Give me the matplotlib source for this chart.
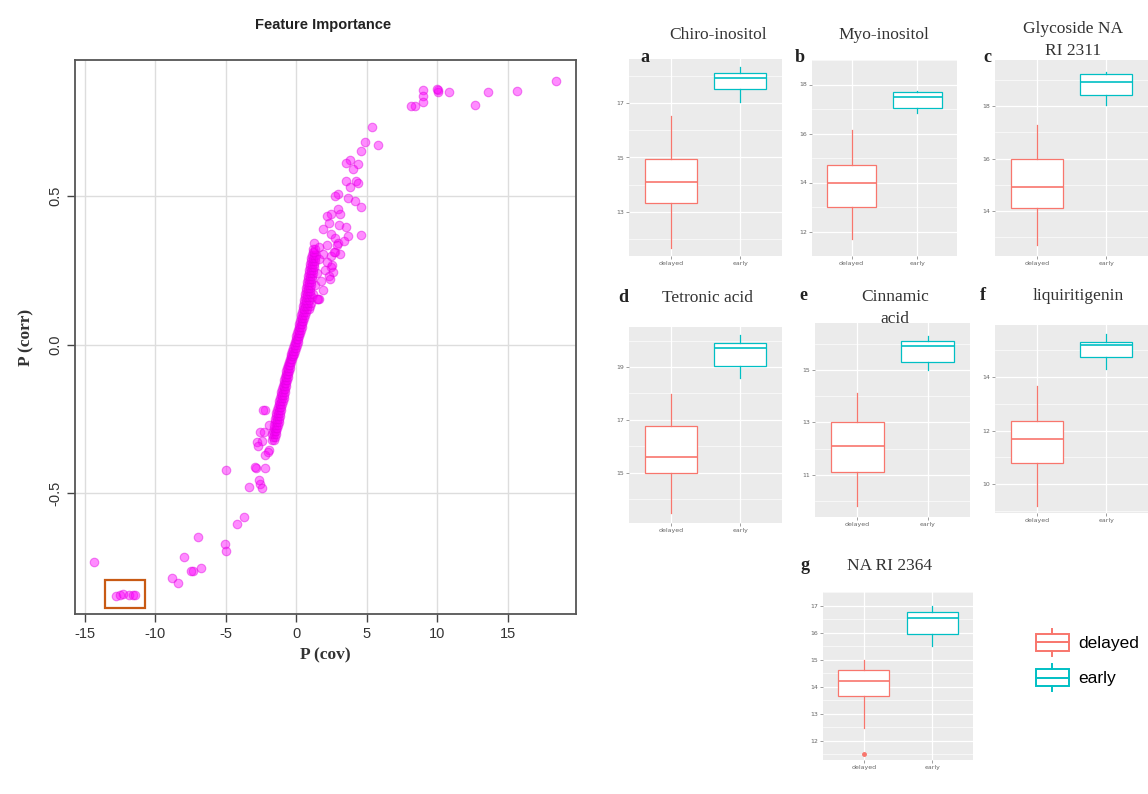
import matplotlib
matplotlib.use('Agg')
import matplotlib.pyplot as plt
from matplotlib.legend_handler import HandlerBase
from matplotlib.patches import Rectangle
from matplotlib.lines import Line2D

plt.rcParams['axes.unicode_minus'] = False

W, H = 1148, 794

# ---- scatter data: (P(cov), P(corr)) ----
band_pts = [
    (-1.75, -0.32), (-1.6, -0.32), (-1.68, -0.31), (-1.52, -0.31),
    (-1.7, -0.30), (-1.55, -0.30), (-1.45, -0.30),
    (-1.62, -0.29), (-1.5, -0.29), (-1.4, -0.29),
    (-1.6, -0.28), (-1.45, -0.28), (-1.35, -0.28),
    (-1.55, -0.27), (-1.42, -0.27), (-1.3, -0.27),
    (-1.5, -0.26), (-1.38, -0.26), (-1.25, -0.26),
    (-1.48, -0.25), (-1.35, -0.25), (-1.22, -0.25),
    (-1.45, -0.24), (-1.3, -0.24), (-1.18, -0.24),
    (-1.4, -0.23), (-1.27, -0.23), (-1.15, -0.23),
    (-1.35, -0.22), (-1.22, -0.22), (-1.1, -0.22),
    (-1.3, -0.21), (-1.17, -0.21), (-1.05, -0.21),
    (-1.25, -0.20), (-1.12, -0.20), (-1.0, -0.20),
    (-1.2, -0.19), (-1.07, -0.19), (-0.95, -0.19),
    (-1.15, -0.18), (-1.02, -0.18), (-0.9, -0.18),
    (-1.1, -0.17), (-0.98, -0.17), (-0.86, -0.17),
    (-1.05, -0.16), (-0.93, -0.16), (-0.82, -0.16),
    (-1.0, -0.15), (-0.88, -0.15), (-0.78, -0.15),
    (-0.95, -0.14), (-0.84, -0.14), (-0.74, -0.14),
    (-0.9, -0.13), (-0.79, -0.13), (-0.7, -0.13),
    (-0.85, -0.12), (-0.74, -0.12), (-0.65, -0.12),
    (-0.8, -0.11), (-0.7, -0.11), (-0.6, -0.11),
    (-0.75, -0.10), (-0.65, -0.10), (-0.56, -0.10),
    (-0.7, -0.09), (-0.6, -0.09), (-0.51, -0.09),
    (-0.65, -0.08), (-0.55, -0.08), (-0.46, -0.08),
    (-0.58, -0.07), (-0.5, -0.07), (-0.41, -0.07),
    (-0.52, -0.06), (-0.44, -0.06), (-0.36, -0.06),
    (-0.46, -0.05), (-0.38, -0.05), (-0.3, -0.05),
    (-0.4, -0.04), (-0.32, -0.04), (-0.24, -0.04),
    (-0.34, -0.03), (-0.26, -0.03), (-0.18, -0.03),
    (-0.28, -0.02), (-0.2, -0.02), (-0.12, -0.02),
    (-0.22, -0.01), (-0.12, -0.01), (-0.04, -0.01),
    (-0.15, 0.00), (-0.05, 0.00), (0.05, 0.00),
    (-0.09, 0.01), (0.01, 0.01), (0.1, 0.01),
    (-0.03, 0.02), (0.07, 0.02), (0.16, 0.02),
    (0.02, 0.03), (0.12, 0.03), (0.22, 0.03),
    (0.08, 0.04), (0.18, 0.04), (0.28, 0.04),
    (0.13, 0.05), (0.23, 0.05), (0.33, 0.05),
    (0.18, 0.06), (0.28, 0.06), (0.38, 0.06),
    (0.22, 0.07), (0.33, 0.07), (0.44, 0.07),
    (0.27, 0.08), (0.38, 0.08), (0.5, 0.08),
    (0.32, 0.09), (0.43, 0.09), (0.56, 0.09),
    (0.36, 0.10), (0.48, 0.10), (0.62, 0.10),
    (0.4, 0.11), (0.53, 0.11), (0.68, 0.11),
    (0.45, 0.12), (0.58, 0.12), (0.74, 0.12), (0.9, 0.12),
    (0.49, 0.13), (0.62, 0.13), (0.79, 0.13), (0.98, 0.13),
    (0.53, 0.14), (0.67, 0.14), (0.84, 0.14), (1.05, 0.14),
    (0.57, 0.15), (0.71, 0.15), (0.88, 0.15),
    (0.6, 0.16), (0.75, 0.16), (0.92, 0.16), (1.15, 0.16),
    (0.64, 0.17), (0.78, 0.17), (0.95, 0.17), (1.2, 0.17),
    (0.68, 0.18), (0.82, 0.18), (0.98, 0.18),
    (0.71, 0.19), (0.85, 0.19), (1.0, 0.19),
    (0.75, 0.20), (0.88, 0.20), (1.05, 0.20), (1.3, 0.20),
    (0.78, 0.21), (0.92, 0.21), (1.08, 0.21),
    (0.82, 0.22), (0.95, 0.22), (1.1, 0.22),
    (0.86, 0.23), (0.98, 0.23), (1.14, 0.23),
    (0.9, 0.24), (1.02, 0.24), (1.18, 0.24), (1.45, 0.24),
    (0.93, 0.25), (1.06, 0.25), (1.22, 0.25),
    (0.97, 0.26), (1.1, 0.26), (1.25, 0.26),
    (1.0, 0.27), (1.14, 0.27), (1.28, 0.27),
    (1.05, 0.28), (1.18, 0.28), (1.32, 0.28),
    (1.08, 0.29), (1.21, 0.29), (1.36, 0.29),
    (1.12, 0.30), (1.25, 0.30), (1.4, 0.30),
    (1.16, 0.31), (1.28, 0.31),
    (1.2, 0.32), (1.32, 0.32), (1.28, 0.34),
]

upper_pts = [
    (18.45, 0.885), (15.67, 0.852), (13.6, 0.849), (12.7, 0.806),
    (10.85, 0.848), (10.08, 0.854), (10.1, 0.85), (10.0, 0.858),
    (9.0, 0.855), (9.0, 0.836), (9.0, 0.816), (8.45, 0.80), (8.17, 0.80),
    (5.37, 0.731), (4.9, 0.679), (5.78, 0.67), (4.63, 0.649), (3.8, 0.619),
    (3.54, 0.611), (4.36, 0.608), (4.03, 0.589), (3.54, 0.551), (4.22, 0.551),
    (4.41, 0.544), (3.81, 0.529), (2.94, 0.506), (2.72, 0.499), (3.68, 0.491),
    (4.14, 0.484), (4.63, 0.461), (2.99, 0.454), (2.45, 0.439), (2.18, 0.431),
    (3.13, 0.439), (2.32, 0.409), (3.05, 0.401), (3.54, 0.394), (1.91, 0.387),
    (2.45, 0.372), (4.63, 0.369), (3.68, 0.364), (2.72, 0.357), (2.99, 0.342),
    (3.40, 0.349), (2.18, 0.334), (1.63, 0.327), (2.72, 0.312), (3.13, 0.304),
    (2.45, 0.297), (1.91, 0.304), (1.63, 0.289), (2.45, 0.259), (2.04, 0.252),
    (2.59, 0.244), (2.32, 0.229), (1.77, 0.214), (1.91, 0.184), (1.63, 0.154),
    (2.41, 0.221), (2.53, 0.266), (2.18, 0.278), (2.89, 0.333), (2.65, 0.311),
    (1.47, 0.154), (1.58, 0.154),
]

lower_pts = [
    (-2.18, -0.22), (-2.36, -0.22), (-1.96, -0.27), (-2.55, -0.293),
    (-2.32, -0.295), (-2.45, -0.325), (-2.79, -0.326), (-2.72, -0.34),
    (-1.9, -0.355), (-2.18, -0.37), (-2.03, -0.36), (-2.86, -0.415),
    (-2.18, -0.415), (-2.9, -0.41), (-5.0, -0.42), (-2.59, -0.467),
    (-2.45, -0.482), (-3.32, -0.478), (-2.67, -0.455), (-4.22, -0.602),
    (-3.68, -0.58), (-5.04, -0.67), (-4.99, -0.692), (-6.95, -0.647),
    (-7.96, -0.715), (-7.36, -0.76), (-7.5, -0.76), (-6.73, -0.752),
    (-8.8, -0.785), (-8.39, -0.80), (-14.36, -0.73),
]

boxed_pts = [
    (-12.8, -0.845), (-12.5, -0.842), (-12.26, -0.838),
    (-11.9, -0.840), (-11.58, -0.842), (-11.44, -0.842),
]

# ---- box plot panels ----
panel_letters = ['a', 'b', 'c', 'd', 'e', 'f', 'g']
panel_titles = ['Chiro-inositol', 'Myo-inositol', 'Glycoside NA\nRI 2311',
                'Tetronic acid', 'Cinnamic\nacid', 'liquiritigenin', 'NA RI 2364']
panel_ticks = [[13, 15, 17], [12, 14, 16, 18], [14, 16, 18], [15, 17, 19],
               [11, 13, 15], [10, 12, 14], [12, 13, 14, 15, 16, 17]]
groups = ['delayed', 'early']
# (whislo, q1, med, q3, whishi)
delayed_stats = [
    (11.7, 13.33, 14.1, 14.96, 16.52),
    (11.7, 13.0, 14.0, 14.7, 16.14),
    (12.7, 14.1, 14.9, 16.0, 17.28),
    (13.5, 15.0, 15.6, 16.77, 17.98),
    (9.8, 11.1, 12.1, 13.0, 14.12),
    (9.2, 10.8, 11.7, 12.36, 13.66),
    (12.45, 13.65, 14.2, 14.6, 15.0),
]
early_stats = [
    (17.05, 17.5, 17.9, 18.1, 18.3),
    (16.85, 17.05, 17.5, 17.7, 17.75),
    (18.04, 18.4, 18.9, 19.2, 19.3),
    (18.6, 19.04, 19.7, 19.9, 20.2),
    (15.0, 15.3, 15.9, 16.1, 16.3),
    (14.3, 14.75, 15.2, 15.3, 15.6),
    (15.5, 15.95, 16.55, 16.75, 17.0),
]
delayed_outliers = [[], [], [], [], [], [], [11.5]]

DELAYED_C = '#F8766D'
EARLY_C = '#00BFC4'


def frac(l, t, r, b):
    return [l / W, 1 - b / H, (r - l) / W, (b - t) / H]


def ftext(fig, x, y, s, **kw):
    fig.text(x / W, 1 - y / H, s, **kw)


fig = plt.figure(figsize=(W / 100, H / 100), dpi=100)

# ---------------- scatter ----------------
ax = fig.add_axes(frac(75, 60, 576, 614))
for pts in (band_pts, upper_pts, lower_pts, boxed_pts):
    xs = [p[0] for p in pts]
    ys = [p[1] for p in pts]
    ax.scatter(xs, ys, s=38, color='#FF00FF', alpha=0.45, linewidths=0.8,
               edgecolors='#E000E0', zorder=3)
ax.set_xlim(-15.7, 19.86)
ax.set_ylim(-0.905, 0.956)
ax.set_xticks([-15, -10, -5, 0, 5, 10, 15])
ax.set_yticks([-0.5, 0.0, 0.5])
ax.set_yticklabels(['-0.5', '0.0', '0.5'], rotation=90, va='center')
ax.grid(True, color='#DDDDDD', linewidth=1.0)
ax.set_axisbelow(True)
for sp in ax.spines.values():
    sp.set_color('#555555')
    sp.set_linewidth(1.3)
ax.tick_params(length=6, width=1, color='#444444', labelsize=10.5,
               labelcolor='#333333', pad=3)
for lab in ax.get_xticklabels() + ax.get_yticklabels():
    lab.set_family('Liberation Sans')
ax.set_xlabel('P (cov)', family='Liberation Serif', fontsize=12.5,
              fontweight='bold', color='#333333', labelpad=5)
ax.set_ylabel('P (corr)', family='Liberation Serif', fontsize=12.5,
              fontweight='bold', color='#333333', labelpad=10)
ax.add_patch(Rectangle((-13.6, -0.886), 2.9, 0.094, fill=False,
                       edgecolor='#C85A14', linewidth=1.6, zorder=4))
ftext(fig, 323, 25, 'Feature Importance', ha='center', va='center',
      family='Liberation Sans', fontweight='bold', fontsize=10.5, color='#222222')

# ---------------- box plots ----------------
panel_boxes = [
    (629, 59, 782, 256), (812, 60, 957, 256), (995, 60, 1148, 256),
    (629, 327, 782, 523), (815, 323, 970, 517), (995, 325, 1148, 513),
    (823, 592, 973, 760),
]
panel_ylims = [(11.39, 18.61), (11.38, 18.1), (12.29, 19.75), (13.11, 20.51),
               (9.4, 16.79), (8.92, 15.94), (11.28, 17.36)]
title_pos = [(718, 35), (884, 35), (1073, 40), (707, 298), (895, 308),
             (1078, 296), (890, 566)]
letter_pos = [(645, 57), (800, 57), (987, 57), (623, 298), (803, 296),
              (983, 296), (805, 566)]

for i in range(7):
    bx = fig.add_axes(frac(*panel_boxes[i]))
    bx.set_facecolor('#EBEBEB')
    for sp in bx.spines.values():
        sp.set_visible(False)
    stats = []
    for st, outl, name in ((delayed_stats[i], delayed_outliers[i], groups[0]),
                           (early_stats[i], [], groups[1])):
        lo, q1, med, q3, hi = st
        stats.append(dict(whislo=lo, q1=q1, med=med, q3=q3, whishi=hi,
                          fliers=outl, label=name))
    for j, (st, col) in enumerate(zip(stats, (DELAYED_C, EARLY_C))):
        bx.bxp([st], positions=[j + 1], widths=0.75, patch_artist=True,
               showcaps=False,
               boxprops=dict(facecolor='white', edgecolor=col, linewidth=0.9),
               medianprops=dict(color=col, linewidth=1.2),
               whiskerprops=dict(color=col, linewidth=0.9),
               flierprops=dict(marker='o', markersize=2.5, markerfacecolor=col,
                               markeredgecolor=col),
               zorder=3)
    bx.set_xlim(0.4, 2.6)
    bx.set_ylim(*panel_ylims[i])
    ticks = panel_ticks[i]
    bx.set_yticks(ticks)
    bx.set_yticklabels([str(t) for t in ticks])
    step = ticks[1] - ticks[0]
    minors = [t + step / 2 for t in [ticks[0] - step] + ticks]
    bx.set_yticks(minors, minor=True)
    bx.set_xticks([1, 2])
    bx.set_xticklabels(groups)
    bx.grid(True, which='major', color='white', linewidth=0.9)
    bx.grid(True, which='minor', axis='y', color='white', linewidth=0.45)
    bx.set_axisbelow(True)
    bx.tick_params(which='major', length=2, width=0.5, color='#777777',
                   labelsize=4.5, labelcolor='#666666', pad=1.5)
    bx.tick_params(which='minor', length=0)
    ftext(fig, *title_pos[i], panel_titles[i], ha='center', va='center',
          family='Liberation Serif', fontsize=12.5, color='#333333',
          linespacing=1.55)
    ftext(fig, *letter_pos[i], panel_letters[i], ha='center', va='center',
          family='Liberation Serif', fontsize=13, fontweight='bold',
          color='#222222')


# ---------------- legend ----------------
class BoxHandler(HandlerBase):
    def create_artists(self, legend, orig_handle, xd, yd, width, height,
                       fontsize, trans):
        col = orig_handle.get_edgecolor()
        x0, y0 = -xd, -yd
        box = Rectangle((x0, y0 + 0.12 * height), width, 0.76 * height,
                        facecolor='white', edgecolor=col, linewidth=1.4,
                        transform=trans)
        med = Line2D([x0, x0 + width], [y0 + 0.5 * height] * 2, color=col,
                     linewidth=1.4, transform=trans)
        wt = Line2D([x0 + width / 2] * 2, [y0 + 0.88 * height, y0 + 1.1 * height],
                    color=col, linewidth=1.4, transform=trans)
        wb = Line2D([x0 + width / 2] * 2, [y0 - 0.1 * height, y0 + 0.12 * height],
                    color=col, linewidth=1.4, transform=trans)
        return [box, med, wt, wb]


handles = [Rectangle((0, 0), 1, 1, edgecolor=c) for c in (DELAYED_C, EARLY_C)]
fig.legend(handles, groups, handler_map={Rectangle: BoxHandler()},
           loc='center left', bbox_to_anchor=(1036 / W, 1 - 660 / H),
           frameon=False, handlelength=1.9, handleheight=1.6,
           labelspacing=0.75, handletextpad=0.55, borderpad=0,
           borderaxespad=0, prop={'family': 'Liberation Sans', 'size': 12.5})

fig.savefig('out.png', dpi=100)
